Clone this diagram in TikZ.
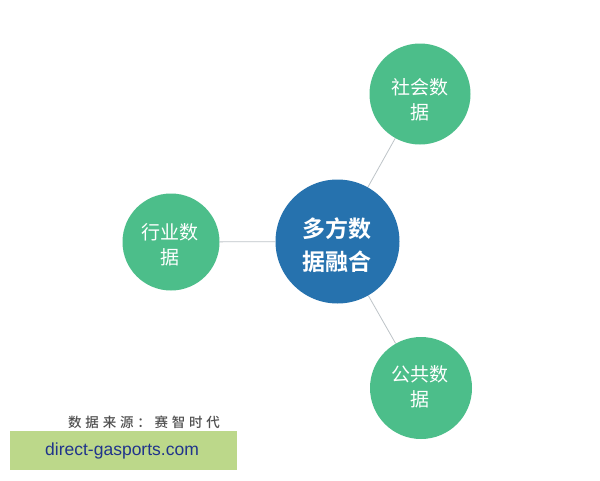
\documentclass[tikz,border=0pt]{standalone}
\usepackage{fontspec}
\usetikzlibrary{backgrounds}
\newfontfamily\cjk{Noto Sans CJK SC}
\newfontfamily\cjkb{Noto Sans CJK SC Bold}
\newfontfamily\cjkcap[LetterSpace=28]{Noto Sans CJK SC Medium}
\setmainfont{Liberation Sans}
\definecolor{greenc}{RGB}{76,190,138}
\definecolor{bluec}{RGB}{38,114,174}
\definecolor{linec}{RGB}{190,196,200}
\definecolor{barc}{RGB}{188,216,138}
\definecolor{urlc}{RGB}{32,52,140}
\definecolor{capc}{RGB}{80,80,80}
\tikzset{
  sat/.style={circle, fill=greenc, minimum size=#1, inner sep=0pt},
  hub/.style={circle, fill=bluec, minimum size=124pt, inner sep=0pt},
  sattext/.style={text=white, align=center, inner sep=0pt,
    font=\cjk\fontsize{19}{25}\selectfont},
  hubtext/.style={text=white, align=center, inner sep=0pt,
    font=\cjkb\fontsize{23}{33}\selectfont},
  link/.style={draw=linec, line width=0.8pt}
}
\begin{document}
\begin{tikzpicture}[x=1pt,y=-1pt]
\useasboundingbox (0,0) rectangle (600,480);
\node[hub] (hub) at (337.5,241.5) {};
\node[sat=101pt] (soc) at (420,94) {};
\node[sat=97pt] (ind) at (171,242) {};
\node[sat=102pt] (pub) at (421,388) {};
\node[hubtext] (hubt) at (337,245) {多方数\\据融合};
\node[sattext] (soct) at (420,100) {社会数\\据};
\node[sattext] (indt) at (170,244.5) {行业数\\据};
\node[sattext] (pubt) at (420,386.5) {公共数\\据};
\begin{scope}[on background layer]
\fill[white] (0,0) rectangle (600,480);
\draw[link] (hub) -- (soc);
\draw[link] (hub) -- (ind);
\draw[link] (hub) -- (pub);
\end{scope}
\node[anchor=west, inner sep=0pt, text=capc, font=\cjkcap\fontsize{13.5}{14}\selectfont] (cap) at (68,422) {数据来源：赛智时代};
\fill[barc] (10,431) rectangle (237,470);
\node[anchor=west, inner sep=0pt, text=urlc, font=\fontsize{17.5}{18}\selectfont] (url) at (45,450.5) {direct-gasports.com};
\end{tikzpicture}
\end{document}
